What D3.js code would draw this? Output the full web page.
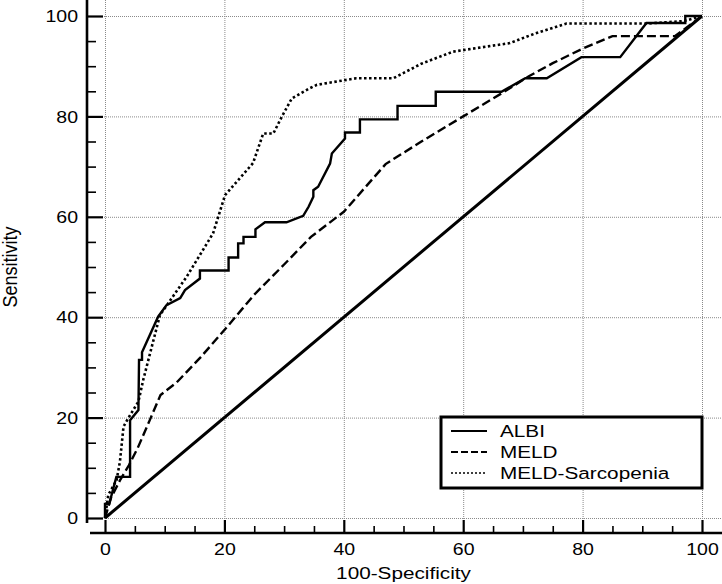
<!DOCTYPE html>
<html>
<head>
<meta charset="utf-8">
<script src="https://cdn.jsdelivr.net/npm/d3@7"></script>
<style>
  html, body { margin: 0; padding: 0; background: #fff; }
  svg { display: block; }
  text { font-family: "Liberation Sans", Arial, sans-serif; fill: #000; }
</style>
</head>
<body>
<svg id="chart" width="722" height="584"></svg>
<script>
// ---- data ----
const seriesNames = ["ALBI", "MELD", "MELD-Sarcopenia"];
const albiX = [0,0,0.7,1.9,4.2,4.2,5.6,5.7,6.2,6.2,8.9,10.3,12.6,13.4,15.9,15.9,20.7,20.7,22.3,22.3,23.2,23.2,25.2,25.2,26.8,30.4,33.2,34.1,34.9,34.9,35.7,37.7,38,40.2,40.2,42.7,42.7,49,49,55.4,55.4,66.4,70.4,74,79.8,86.3,89.6,90.7,97.2,97.2,100];
const albiY = [0,2.8,2.8,8.2,8.2,19.5,21.5,31.5,31.5,33,40.1,42.4,43.8,45.4,47.7,49.3,49.3,51.9,51.9,54.7,54.7,56,56,57.5,58.9,58.9,60.2,62,64,65.3,66,70.6,72.6,75.6,76.8,76.8,79.4,79.4,82.1,82.1,84.9,84.9,87.6,87.6,91.8,91.8,96.9,98.6,98.6,100,100];
const meldX = [0,1,2.5,4,5.5,7.5,9.3,12,16,20.4,25,30,34.5,40,47,53,60,67,71,75,80,85,95.5,100];
const meldY = [0,4,7.5,10.5,14,19.5,24.5,27,32,38,44.5,50.5,56,61,70.5,75,80,85,88,90.6,93.5,96,96,100];
const sarcX = [0,0.55,1.95,2.5,3.1,3.9,5.6,6.4,9.2,13.7,18.1,20.1,22.3,24.8,26.5,28.2,29.6,31.3,34.3,35.5,42.1,48.3,53,58.3,67.8,72,77.3,90.7,97,100];
const sarcY = [0,4.6,7.6,11.2,18.2,19.9,23.2,27.5,40.4,48.1,56.7,64.3,67.3,70.7,76.6,76.6,79.9,83.6,85.6,86.3,87.6,87.6,90.5,92.9,94.6,96.5,98.5,98.5,99,100];
const diagX = [0, 100];
const diagY = [0, 100];
const majorTicks = [0, 20, 40, 60, 80, 100];
const minorTicks = [5,10,15,25,30,35,45,50,55,65,70,75,85,90,95];
const xTitle = "100-Specificity";
const yTitle = "Sensitivity";

// ---- layout ----
const W = 722, H = 584;
const SX = 1.22; // horizontal stretch of the reference glyphs
const x = d3.scaleLinear().domain([0, 100]).range([105, 702]);
const y = d3.scaleLinear().domain([0, 100]).range([518, 16]);
const svg = d3.select("#chart");

// grid
const grid = svg.append("g").attr("stroke", "#8a8a8a").attr("stroke-width", 1)
  .attr("stroke-dasharray", "1,1").attr("fill", "none");
grid.selectAll("line.h").data(majorTicks).join("line").attr("class", "h")
  .attr("x1", 100).attr("x2", W).attr("y1", d => y(d) + 0.5).attr("y2", d => y(d) + 0.5);
grid.selectAll("line.v").data(majorTicks).join("line").attr("class", "v")
  .attr("y1", 0).attr("y2", 522).attr("x1", d => x(d) + 0.5).attr("x2", d => x(d) + 0.5);

// axes
const xAxisY = 533, yAxisX = 87;
const gx = svg.append("g").attr("transform", `translate(0,${xAxisY})`)
  .call(d3.axisBottom(x).tickValues(majorTicks).tickSize(-13).tickFormat(d3.format("d")));
const gxm = svg.append("g").attr("transform", `translate(0,${xAxisY})`)
  .call(d3.axisBottom(x).tickValues(minorTicks).tickSize(-7).tickFormat(""));
const gy = svg.append("g").attr("transform", `translate(${yAxisX},0)`)
  .call(d3.axisLeft(y).tickValues(majorTicks).tickSize(-16).tickFormat(d3.format("d")));
const gym = svg.append("g").attr("transform", `translate(${yAxisX},0)`)
  .call(d3.axisLeft(y).tickValues(minorTicks).tickSize(-9).tickFormat(""));
[gx, gxm, gy, gym].forEach(g => {
  g.select(".domain").remove();
  g.selectAll(".tick line").attr("stroke", "#000");
});
gx.selectAll(".tick line").attr("stroke-width", 2.2);
gy.selectAll(".tick line").attr("stroke-width", 2.2);
gxm.selectAll(".tick line").attr("stroke-width", 1.6);
gym.selectAll(".tick line").attr("stroke-width", 1.6);
gx.selectAll(".tick text")
  .attr("y", 0).attr("dy", 0)
  .attr("transform", `translate(0,22) scale(${SX},1)`)
  .style("font-size", "16px").attr("fill", "#000");
gy.selectAll(".tick text")
  .attr("x", 0).attr("dy", "0.36em")
  .attr("transform", `translate(-9,0) scale(${SX},1)`)
  .style("font-size", "16px").attr("fill", "#000");

// axis lines
svg.append("line").attr("x1", 90).attr("x2", W).attr("y1", xAxisY).attr("y2", xAxisY)
  .attr("stroke", "#000").attr("stroke-width", 2.6);
svg.append("line").attr("x1", yAxisX).attr("x2", yAxisX).attr("y1", 0).attr("y2", 523)
  .attr("stroke", "#000").attr("stroke-width", 2.6);

// axis titles
svg.append("text").text(xTitle)
  .attr("text-anchor", "middle")
  .attr("transform", `translate(${(x(0) + x(100)) / 2},579) scale(${SX},1)`)
  .style("font-size", "17px");
svg.append("text").text(yTitle)
  .attr("text-anchor", "middle")
  .attr("transform", `translate(17,${(y(0) + y(100)) / 2}) rotate(-90) scale(1,1.1)`)
  .style("font-size", "18px");

// lines
const line = d3.line().x(d => x(d[0])).y(d => y(d[1]));
const zip = (a, b) => a.map((v, i) => [v, b[i]]);
const styles = [
  { dash: null, width: 2.4 },
  { dash: "9,4", width: 2.4 },
  { dash: "2.5,2.5", width: 2.6 }
];
svg.append("path").datum(zip(diagX, diagY)).attr("d", line)
  .attr("fill", "none").attr("stroke", "#000").attr("stroke-width", 3);
const seriesData = [zip(albiX, albiY), zip(meldX, meldY), zip(sarcX, sarcY)];
seriesData.forEach((d, i) => {
  svg.append("path").datum(d).attr("d", line)
    .attr("fill", "none").attr("stroke", "#000")
    .attr("stroke-width", styles[i].width)
    .attr("stroke-linejoin", "miter")
    .attr("stroke-dasharray", styles[i].dash);
});

// legend
const lg = svg.append("g");
lg.append("rect").attr("x", 441).attr("y", 417).attr("width", 261).attr("height", 71)
  .attr("fill", "#fff").attr("stroke", "#000").attr("stroke-width", 3);
const legendDash = [null, "7,3", "2,2"];
seriesNames.forEach((name, i) => {
  const yy = 431 + 21 * i;
  lg.append("line").attr("x1", 451).attr("x2", 487).attr("y1", yy).attr("y2", yy)
    .attr("stroke", "#000").attr("stroke-width", i === 2 ? 1.6 : 2)
    .attr("stroke-dasharray", legendDash[i]);
  lg.append("text").text(name)
    .attr("transform", `translate(500,${yy + 6}) scale(${SX},1)`)
    .style("font-size", "17px");
});
</script>
</body>
</html>
